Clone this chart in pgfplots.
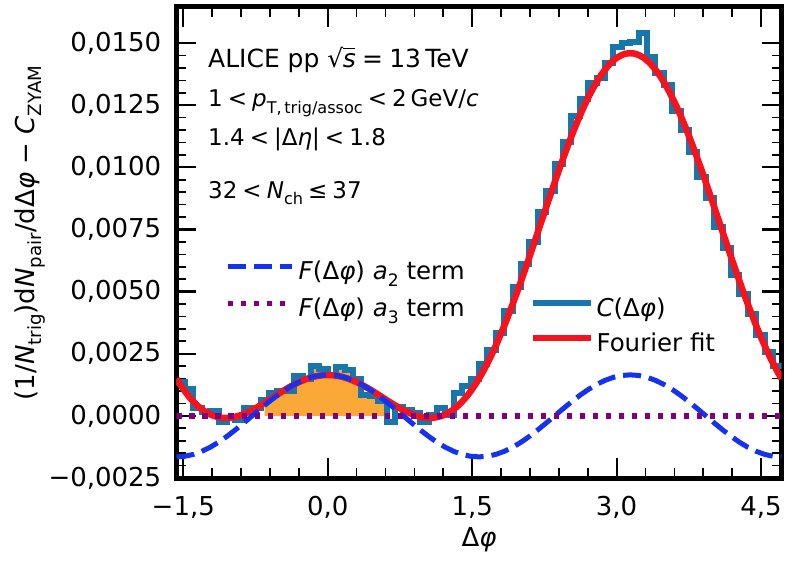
\documentclass[border=0pt]{standalone}
\usepackage{fontspec}
\setmainfont{DejaVu Sans}
\usepackage{graphicx}
\usepackage{pgfplots}
\usepackage{pgfplotstable}
\pgfplotsset{compat=1.18}

\definecolor{histblue}{RGB}{23,119,172}
\definecolor{fitred}{RGB}{245,20,30}
\definecolor{dashblue}{RGB}{20,50,240}
\definecolor{dotpurple}{RGB}{128,0,128}
\definecolor{fillorange}{RGB}{250,168,55}

\newcommand{\sbs}[1]{\raisebox{-0.28em}{\scalebox{0.7}{#1}}}
\newcommand{\lt}{\hspace{0.22em}<\hspace{0.22em}}
\newcommand{\lstrut}{\rule[-9.5pt]{0pt}{37pt}}

% histogram C(dphi): left bin edges and contents (last row = right edge)
\pgfplotstableread{
x y
-1.5708 0.00135
-1.4835 0.00110
-1.3963 0.00030
-1.3090 0.00015
-1.2217 0.00020
-1.1345 -0.00025
-1.0472 -0.00010
-0.9599 -0.00015
-0.8727 0.00030
-0.7854 0.00030
-0.6981 0.00065
-0.6109 0.00090
-0.5236 0.00100
-0.4363 0.00100
-0.3491 0.00160
-0.2618 0.00150
-0.1745 0.00200
-0.0873 0.00190
0.0000 0.00165
0.0873 0.00195
0.1745 0.00185
0.2618 0.00150
0.3491 0.00085
0.4363 0.00080
0.5236 0.00060
0.6109 -0.00025
0.6981 0.00035
0.7854 0.00025
0.8727 0.00010
0.9599 -0.00025
1.0472 0.00005
1.1345 0.00030
1.2217 0.00005
1.3090 0.00090
1.3963 0.00120
1.4835 0.00150
1.5708 0.00210
1.6581 0.00265
1.7453 0.00335
1.8326 0.00420
1.9199 0.00520
2.0071 0.00610
2.0944 0.00700
2.1817 0.00820
2.2689 0.00905
2.3562 0.01015
2.4435 0.01100
2.5307 0.01205
2.6180 0.01275
2.7053 0.01340
2.7925 0.01360
2.8798 0.01420
2.9671 0.01485
3.0543 0.01500
3.1416 0.01505
3.2289 0.01540
3.3161 0.01445
3.4034 0.01380
3.4907 0.01330
3.5779 0.01225
3.6652 0.01150
3.7525 0.01060
3.8397 0.00960
3.9270 0.00875
4.0143 0.00760
4.1015 0.00675
4.1888 0.00565
4.2761 0.00490
4.3633 0.00410
4.4506 0.00325
4.5379 0.00255
4.6251 0.00200
4.7124 0.00200
}\histtab

% Fourier fit
\pgfplotstableread{
x y
-1.5708 0.001500
-1.5272 0.001231
-1.4399 0.000767
-1.3526 0.000409
-1.2654 0.000152
-1.1781 -0.000009
-1.0908 -0.000078
-1.0036 -0.000068
-0.9163 0.000011
-0.8290 0.000147
-0.7418 0.000325
-0.6545 0.000530
-0.5672 0.000748
-0.4800 0.000965
-0.3927 0.001169
-0.3054 0.001346
-0.2182 0.001488
-0.1309 0.001588
-0.0436 0.001638
0.0436 0.001638
0.1309 0.001588
0.2182 0.001488
0.3054 0.001346
0.3927 0.001169
0.4800 0.000965
0.5672 0.000748
0.6545 0.000530
0.7418 0.000325
0.8290 0.000147
0.9163 0.000011
1.0036 -0.000068
1.0908 -0.000078
1.1781 -0.000009
1.2654 0.000152
1.3526 0.000409
1.4399 0.000767
1.5272 0.001231
1.6144 0.001795
1.7017 0.002457
1.7890 0.003211
1.8762 0.004046
1.9635 0.004947
2.0508 0.005902
2.1380 0.006890
2.2253 0.007895
2.3126 0.008895
2.3998 0.009873
2.4871 0.010804
2.5744 0.011670
2.6616 0.012451
2.7489 0.013133
2.8362 0.013696
2.9234 0.014132
3.0107 0.014428
3.0980 0.014576
3.1852 0.014576
3.2725 0.014428
3.3598 0.014132
3.4470 0.013696
3.5343 0.013133
3.6216 0.012451
3.7088 0.011670
3.7961 0.010804
3.8834 0.009873
3.9706 0.008895
4.0579 0.007895
4.1452 0.006890
4.2324 0.005902
4.3197 0.004947
4.4070 0.004046
4.4942 0.003211
4.5815 0.002457
4.6688 0.001795
4.7124 0.001500
}\fittab

% a2 term
\pgfplotstableread{
x y
-1.5708 -0.001650
-1.4835 -0.001625
-1.3963 -0.001551
-1.3090 -0.001429
-1.2217 -0.001264
-1.1345 -0.001061
-1.0472 -0.000825
-0.9599 -0.000564
-0.8727 -0.000286
-0.7854 0.000000
-0.6981 0.000286
-0.6109 0.000564
-0.5236 0.000825
-0.4363 0.001061
-0.3491 0.001264
-0.2618 0.001429
-0.1745 0.001551
-0.0873 0.001625
0.0000 0.001650
0.0873 0.001625
0.1745 0.001551
0.2618 0.001429
0.3491 0.001264
0.4363 0.001061
0.5236 0.000825
0.6109 0.000564
0.6981 0.000286
0.7854 0.000000
0.8727 -0.000286
0.9599 -0.000564
1.0472 -0.000825
1.1345 -0.001061
1.2217 -0.001264
1.3090 -0.001429
1.3963 -0.001551
1.4835 -0.001625
1.5708 -0.001650
1.6581 -0.001625
1.7453 -0.001551
1.8326 -0.001429
1.9199 -0.001264
2.0071 -0.001061
2.0944 -0.000825
2.1817 -0.000564
2.2689 -0.000286
2.3562 0.000000
2.4435 0.000286
2.5307 0.000564
2.6180 0.000825
2.7053 0.001061
2.7925 0.001264
2.8798 0.001429
2.9671 0.001551
3.0543 0.001625
3.1416 0.001650
3.2289 0.001625
3.3161 0.001551
3.4034 0.001429
3.4907 0.001264
3.5779 0.001061
3.6652 0.000825
3.7525 0.000564
3.8397 0.000286
3.9270 0.000000
4.0143 -0.000286
4.1015 -0.000564
4.1888 -0.000825
4.2761 -0.001061
4.3633 -0.001264
4.4506 -0.001429
4.5379 -0.001551
4.6251 -0.001625
4.7124 -0.001650
}\atwotab

\pgfplotsset{
  common/.style={
    at={(0pt,0pt)}, anchor=south west,
    scale only axis, width=605pt, height=471pt,
    xmin=-1.5708, xmax=4.7124, ymin=-0.0025, ymax=0.01645,
  },
}

\begin{document}
\begin{tikzpicture}
\useasboundingbox (-176.5pt,-85pt) rectangle (611.5pt,478pt);
\begin{axis}[
  common,
  xtick={-1.5,0,1.5,3,4.5},
  xticklabels={{−1,5},{0,0},{1,5},{3,0},{4,5}},
  ytick={-0.0025,0,0.0025,0.005,0.0075,0.01,0.0125,0.015},
  yticklabels={{−0,0025},{0,0000},{0,0025},{0,0050},{0,0075},{0,0100},{0,0125},{0,0150}},
  scaled ticks=false,
  minor x tick num=4, minor y tick num=4,
  tick align=inside, xtick pos=both, ytick pos=both,
  major tick length=20pt, minor tick length=10pt,
  every tick/.append style={black},
  major tick style={line width=2.2pt, black},
  minor tick style={line width=1.6pt, black},
  axis line style={line width=5pt},
  ticklabel style={font=\fontsize{26}{30}\selectfont},
  yticklabel style={inner sep=0pt, xshift=-15pt},
  xticklabel style={inner sep=0pt, yshift=-18pt},
  xlabel={Δ\textit{φ}},
  ylabel={(1/\textit{N}\sbs{trig})d\textit{N}\sbs{pair}/dΔ\textit{φ} − \textit{C}\sbs{ZYAM}},
  label style={font=\fontsize{26}{30}\selectfont},
  xlabel style={at={(axis description cs:0.5,-0.132)}, anchor=center},
  ylabel style={at={(axis description cs:-0.242,0.52)}, anchor=center},
  legend cell align=left,
  legend style={at={(axis description cs:0.584,0.4025)}, anchor=north west,
    draw=none, fill=none, inner sep=0pt, row sep=6pt,
    font=\fontsize{24.5}{28}\selectfont,
    nodes={inner xsep=2pt, inner ysep=0pt}},
  legend image code/.code={\draw[#1] (0pt,0pt) -- (58pt,0pt);},
]
\addplot[fill=fillorange, draw=none, const plot mark left, forget plot] coordinates {
(-0.6545,0.00065) (-0.6109,0.00090) (-0.5236,0.00100) (-0.4363,0.00100)
(-0.3491,0.00160) (-0.2618,0.00150) (-0.1745,0.00200) (-0.0873,0.00190)
(0,0.00165) (0.0873,0.00195) (0.1745,0.00185) (0.2618,0.00150)
(0.3491,0.00085) (0.4363,0.00080) (0.5236,0.00060) (0.6109,0.00060)} \closedcycle;
\addplot[histblue, line width=6pt, const plot mark left, forget plot] table {\histtab};
\addplot[fitred, line width=6.5pt, smooth, forget plot] table {\fittab};
\addlegendimage{histblue, line width=6pt}
\addlegendentry{\lstrut\textit{C}(Δ\textit{φ})}
\addlegendimage{fitred, line width=6.5pt}
\addlegendentry{\lstrut Fourier fit}

\node[anchor=west, inner sep=0pt, font=\fontsize{25}{30}\selectfont] at (axis description cs:0.052,0.887)
  {ALICE pp √\kern-0.02em\rlap{\rule[0.74em]{0.5em}{0.06em}}\textit{s}\hspace{0.25em}=\hspace{0.25em}13\,TeV};
\node[anchor=west, inner sep=0pt, font=\fontsize{23}{28}\selectfont] at (axis description cs:0.052,0.796)
  {1\lt\textit{p}\sbs{T,\,trig/assoc}\lt2\,GeV/\textit{c}};
\node[anchor=west, inner sep=0pt, font=\fontsize{23}{28}\selectfont] at (axis description cs:0.052,0.718)
  {1.4\lt|Δ\textit{η}|\lt1.8};
\node[anchor=west, inner sep=0pt, font=\fontsize{23}{28}\selectfont] at (axis description cs:0.052,0.605)
  {32\lt\textit{N}\sbs{ch}\hspace{0.22em}≤\hspace{0.22em}37};
\end{axis}

\begin{axis}[
  common, hide axis,
  legend cell align=left,
  legend style={at={(axis description cs:0.080,0.481)}, anchor=north west,
    draw=none, fill=none, inner sep=0pt, row sep=8.5pt,
    font=\fontsize{24.5}{28}\selectfont,
    nodes={inner xsep=4pt, inner ysep=0pt}},
  legend image code/.code={\draw[#1] (0pt,0pt) -- (64pt,0pt);},
]
\addplot[dashblue, line width=5pt, dash pattern=on 18pt off 8pt] table {\atwotab};
\addlegendentry{\lstrut\textit{F}(Δ\textit{φ}) \textit{a}\sbs{2} term}
\addplot[dotpurple, line width=5.5pt, dash pattern=on 5.5pt off 7.5pt] coordinates {(-1.5708,0) (4.7124,0)};
\addlegendentry{\lstrut\textit{F}(Δ\textit{φ}) \textit{a}\sbs{3} term}
\end{axis}
\end{tikzpicture}
\end{document}
